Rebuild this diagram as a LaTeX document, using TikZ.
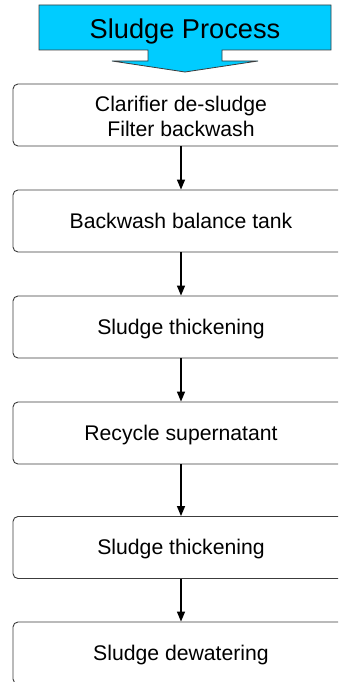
\documentclass[tikz,border=0pt]{standalone}
\usepackage{fontspec}
\setmainfont{Liberation Sans}
\usetikzlibrary{arrows.meta}
\definecolor{titlecyan}{RGB}{0,204,255}
\definecolor{edgegray}{RGB}{60,60,60}
\tikzset{
  stagebox/.style={draw=edgegray, line width=0.9pt, rounded corners=5pt, minimum width=336pt, minimum height=62pt, inner sep=0pt, fill=white},
  lbl/.style={anchor=base, inner sep=0pt, font=\fontsize{21.2}{25}\selectfont},
  flow/.style={-{Triangle[length=10pt,width=8pt]}, line width=1.4pt, black},
}
\begin{document}
\begin{tikzpicture}[x=1pt,y=-1pt]
\useasboundingbox (0,0) rectangle (338,682);
\fill[white] (0,0) rectangle (338,682);
\begin{scope}
\clip (0,0) rectangle (338,682);
% title arrow
\draw[fill=titlecyan, draw=edgegray, line width=0.8pt]
  (39,5) -- (331,5) -- (331,50) -- (222,50) -- (222,61) -- (258,61) -- (185,72)
  -- (112,61) -- (148,61) -- (148,50) -- (39,50) -- cycle;
\node[anchor=base, inner sep=0pt, font=\fontsize{27.2}{30}\selectfont] (title) at (185,38.5) {Sludge Process};
% boxes
\node[stagebox] (b1) at (181,115) {};
\node[stagebox] (b2) at (181,221) {};
\node[stagebox] (b3) at (181,327) {};
\node[stagebox] (b4) at (181,433) {};
\node[stagebox] (b5) at (181,547.5) {};
\node[stagebox] (b6) at (181,653) {};
% labels
\node[lbl] (t1a) at (181,111) {Clarifier de-sludge};
\node[lbl] (t1b) at (181,136) {Filter backwash};
\node[lbl] (t2) at (181,228.4) {Backwash balance tank};
\node[lbl] (t3) at (181,334.4) {Sludge thickening};
\node[lbl] (t4) at (181,440.4) {Recycle supernatant};
\node[lbl] (t5) at (181,554.9) {Sludge thickening};
\node[lbl] (t6) at (181,660.4) {Sludge dewatering};
% connectors
\draw[flow] (b1.south) -- (b2.north);
\draw[flow] (b2.south) -- (b3.north);
\draw[flow] (b3.south) -- (b4.north);
\draw[flow] (b4.south) -- (b5.north);
\draw[flow] (b5.south) -- (b6.north);
\end{scope}
\end{tikzpicture}
\end{document}
